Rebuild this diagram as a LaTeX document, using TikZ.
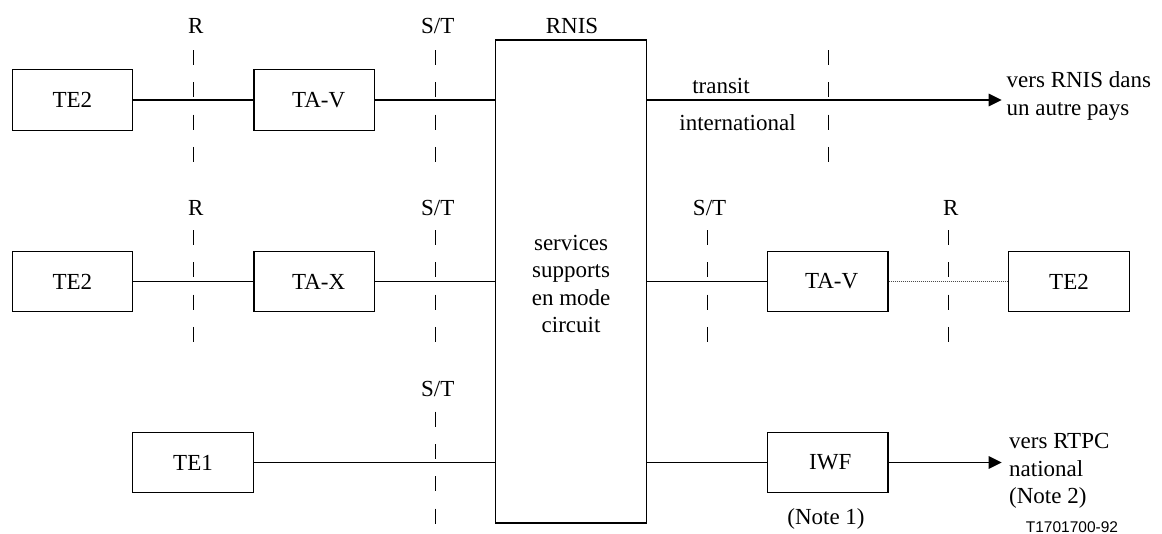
\documentclass[tikz,border=0pt]{standalone}
\usepackage{fontspec}
\setmainfont{Liberation Serif}
\newfontfamily\figsans{Liberation Sans}
\usetikzlibrary{arrows.meta}

\newcommand\figfont{\fontsize{23}{27.5}\selectfont}

\tikzset{
  box/.style={draw, line width=1.1pt, minimum width=120.5pt, minimum height=60.5pt,
              inner sep=0pt, font=\figfont},
  wire/.style={line width=1.2pt},
  feed/.style={wire, -{Triangle[length=13pt,width=12.5pt]}},
  faint/.style={line width=0.8pt, black!70, dash pattern=on 1pt off 1pt},
  refpoint/.style={line width=1.1pt, dash pattern=on 15pt off 17.33pt},
  lbl/.style={anchor=base, inner sep=0pt, font=\figfont},
  txt/.style={inner sep=0pt, font=\figfont},
}

\begin{document}
\begin{tikzpicture}[x=1pt, y=-1pt]
  \useasboundingbox (0,0) rectangle (1162,533);

  % central exchange
  \node[box, minimum width=150.8pt, minimum height=483pt] (rnis) at (571.1,281.5) {};
  \node[txt, align=center] (svc) at (571.1,284.2)
       {services\\supports\\en mode\\circuit};
  \node[lbl] (rnislbl) at (572,33.3) {RNIS};

  % terminals and adapters
  \node[box] (te2a) at (72.3,100)   {TE2};
  \node[box] (tava) at (314.2,100)  {\hspace*{9pt}TA-V};
  \node[box] (te2b) at (72.3,281.5) {TE2};
  \node[box] (tax)  at (314.2,281.5){\hspace*{9pt}TA-X};
  \node[box] (te1)  at (193,462.5)  {TE1};
  \node[box] (tavb) at (827.7,281.5){\hspace*{8pt}TA-V};
  \node[box] (iwf)  at (827.7,462.5){\hspace*{5pt}IWF};
  \node[box] (te2c) at (1069,281.5) {TE2};

  % outgoing destinations
  \coordinate (abroad) at (1001.7,100);
  \coordinate (pstn)   at (1001.7,462.5);
  \node[txt, anchor=west, align=left] (abroadlbl) at (1006.5,95.8)
       {vers RNIS dans\\un autre pays};
  \node[txt, anchor=west, align=left] (pstnlbl) at (1009,471)
       {vers RTPC\\national\\(Note 2)};

  % links
  \draw[wire] (te2a) -- (tava);
  \draw[wire] (tava.east) -- (tava.east -| rnis.west);
  \draw[feed] (rnis.east |- abroad) -- (abroad);
  \draw[wire] (te2b) -- (tax);
  \draw[wire] (tax.east) -- (tax.east -| rnis.west);
  \draw[wire] (rnis.east |- tavb.west) -- (tavb.west);
  \draw[faint] (tavb.east) -- (te2c.west);
  \draw[wire] (te1.east) -- (te1.east -| rnis.west);
  \draw[wire] (rnis.east |- iwf.west) -- (iwf.west);
  \draw[feed] (iwf.east) -- (pstn);

  % reference points
  \draw[refpoint] (193.3,50)  -- (193.3,162);
  \draw[refpoint] (435.7,50)  -- (435.7,162);
  \draw[refpoint] (828.5,50)  -- (828.5,162);
  \draw[refpoint] (193.3,230) -- (193.3,342);
  \draw[refpoint] (435.7,230) -- (435.7,342);
  \draw[refpoint] (707.3,230) -- (707.3,342);
  \draw[refpoint] (948.5,230) -- (948.5,342);
  \draw[refpoint] (435.7,411.7) -- (435.7,524);

  \node[lbl] (r1)  at (195.8,33.3) {R};
  \node[lbl] (st1) at (437.8,33.3) {S/T};
  \node[lbl] (r2)  at (195.8,215)  {R};
  \node[lbl] (st2) at (437.8,215)  {S/T};
  \node[lbl] (st3) at (709.6,215)  {S/T};
  \node[lbl] (r3)  at (950.7,215)  {R};
  \node[lbl] (st4) at (437.8,396)  {S/T};

  \node[lbl] (transit) at (721,93.3)  {transit};
  \node[lbl] (intl)    at (737.5,130) {international};
  \node[lbl] (note1)   at (826,524)   {(Note 1)};
  \node[anchor=base, inner sep=0pt, font=\figsans\fontsize{15.5}{18}\selectfont]
       (figno) at (1072,532) {T1701700-92};
\end{tikzpicture}
\end{document}
